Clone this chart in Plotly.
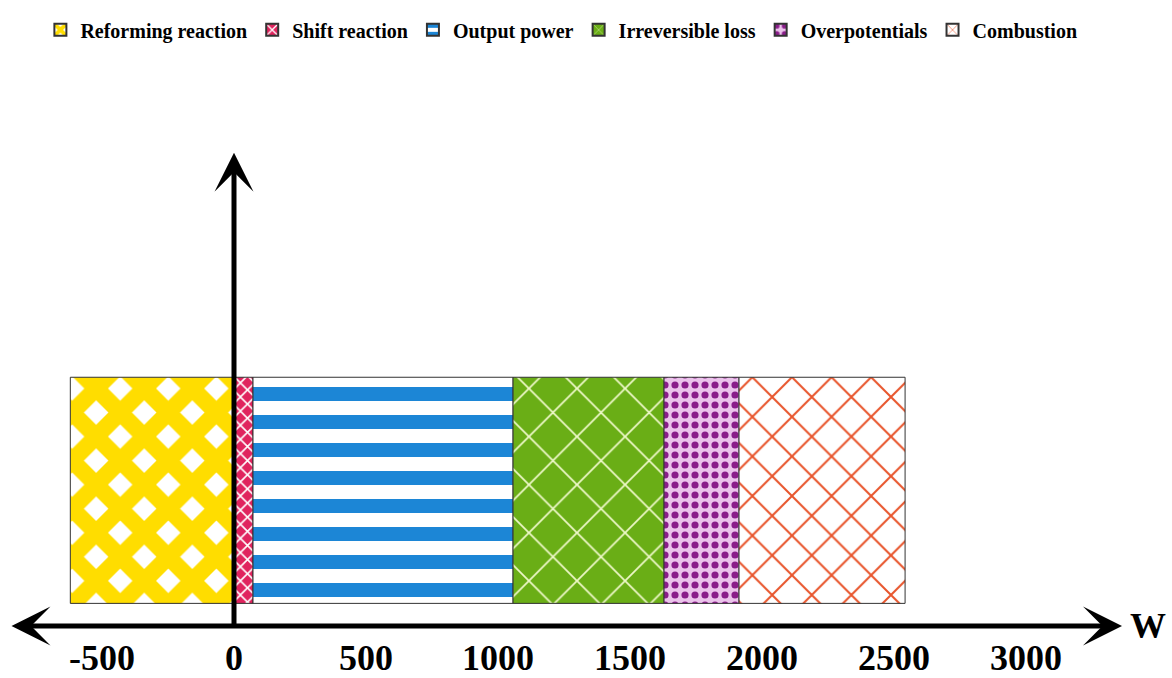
import plotly.graph_objects as go

# ---- data (W) ----
categories = ["Reforming reaction", "Shift reaction", "Output power",
              "Irreversible loss", "Overpotentials", "Combustion"]
values = [-620, 72, 985, 572, 284, 629]
tick_values = [-500, 0, 500, 1000, 1500, 2000, 2500, 3000]
tick_labels = ["-500", "0", "500", "1000", "1500", "2000", "2500", "3000"]

# ---- styles ----
styles = {
    "Reforming reaction": dict(bg="#FFFFFF", fg="#FFDD00", shape="x", size=34, sol=0.74),
    "Shift reaction": dict(bg="#E0245E", fg="#FFFFFF", shape="x", size=10, sol=0.3),
    "Output power": dict(bg="#FFFFFF", fg="#1C86D6", shape="-", size=28, sol=0.5),
    "Irreversible loss": dict(bg="#6AAE16", fg="#EEF8C8", shape="x", size=34, sol=0.1),
    "Overpotentials": dict(bg="#EBC3EB", fg="#8A1D8A", shape=".", size=10, sol=0.4),
    "Combustion": dict(bg="#FFFFFF", fg="#E8552C", shape="x", size=28, sol=0.14),
}

FONT = "Liberation Serif, Times New Roman, serif"
W, H = 1172, 678
M_T, M_B = 100, 50
PX_PER_W = 0.264
ZERO_PX = 234
X_MIN = -ZERO_PX / PX_PER_W
X_MAX = (W - ZERO_PX) / PX_PER_W

fig = go.Figure()
for cat, val in zip(categories, values):
    s = styles[cat]
    fig.add_trace(go.Bar(
        x=[val], y=[0], orientation="h", name=cat, width=1,
        marker=dict(color=s["bg"],
                    line=dict(color="#333333", width=1),
                    pattern=dict(shape=s["shape"], bgcolor=s["bg"], fgcolor=s["fg"],
                                 size=s["size"], solidity=s["sol"], fgopacity=1)),
        hoverinfo="skip",
    ))

plot_h = H - M_T - M_B
annotations = [
    # horizontal double-headed axis arrow
    dict(xref="x", yref="paper", x=(1122 - ZERO_PX) / PX_PER_W, y=0,
         axref="x", ax=(10 - ZERO_PX) / PX_PER_W, ayref="pixel", ay=0,
         showarrow=True, text="", arrowside="end+start",
         arrowhead=3, startarrowhead=3, arrowwidth=5,
         arrowsize=1.3, startarrowsize=1.3, arrowcolor="black"),
    # vertical arrow at 0
    dict(xref="x", yref="paper", x=0, y=(628 - 153) / plot_h,
         ax=0, ay=628 - 153, showarrow=True, text="",
         arrowhead=3, arrowwidth=5, arrowsize=1.3, arrowcolor="black"),
    dict(xref="paper", yref="paper", x=1148 / W, y=0, text="W", showarrow=False,
         xanchor="center", yanchor="middle",
         font=dict(family=FONT, size=36, color="black", weight="bold")),
]

fig.update_layout(
    width=W, height=H,
    margin=dict(l=0, r=0, t=M_T, b=M_B),
    barmode="relative",
    plot_bgcolor="white", paper_bgcolor="white",
    showlegend=True,
    legend=dict(orientation="h", x=0.479, xanchor="center", y=1 + 90 / plot_h, yanchor="top",
                font=dict(family=FONT, size=20, color="black", weight="bold"),
                traceorder="normal", itemsizing="constant"),
    xaxis=dict(range=[X_MIN, X_MAX], tickvals=tick_values, ticktext=tick_labels,
               showgrid=False, zeroline=False, showline=False, ticks="",
               ticklabelstandoff=7,
               tickfont=dict(family=FONT, size=36, color="black", weight="bold")),
    yaxis=dict(range=[-0.6, 1.726], visible=False),
    annotations=annotations,
)

fig.write_html("out.html", config={"displayModeBar": False},
               post_script="document.body.style.margin='0px';")
